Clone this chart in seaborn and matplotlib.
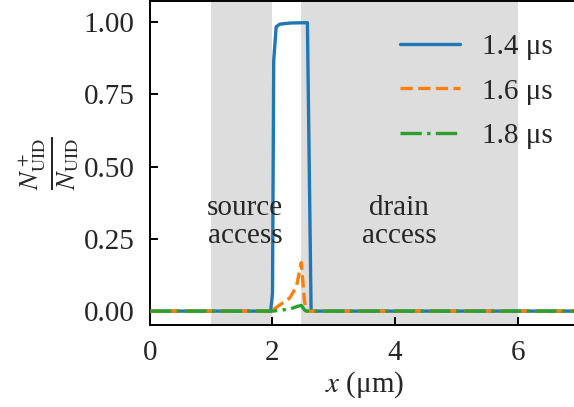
import matplotlib
matplotlib.use("Agg")
import matplotlib.pyplot as plt
import seaborn as sns
import pandas as pd

# Fraction of ionized UID donors along the channel at three instants
x_14 = [0.0, 1.97, 2.00, 2.02, 2.06, 2.12, 2.30, 2.55, 2.57, 2.63, 7.0]
y_14 = [0.0, 0.0, 0.06, 0.868, 0.984, 0.993, 0.997, 0.998, 0.998, 0.0, 0.0]

x_16 = [0.0, 1.98, 2.11, 2.28, 2.39, 2.44, 2.47, 2.52, 2.55, 7.0]
y_16 = [0.0, 0.0, 0.02, 0.045, 0.084, 0.136, 0.168, 0.04, 0.0, 0.0]

x_18 = [0.0, 2.0, 2.28, 2.39, 2.47, 2.52, 2.55, 7.0]
y_18 = [0.0, 0.0, 0.007, 0.015, 0.02, 0.005, 0.0, 0.0]

labels = ["1.4 μs", "1.6 μs", "1.8 μs"]
colors = ["#1f77b4", "#ff7f0e", "#2ca02c"]
styles = ["-", "--", "-."]

# Device regions (µm)
source_region = (1.0, 2.0)
drain_region = (2.47, 6.0)

sns.set_theme(style="ticks")
plt.rcParams["font.family"] = ["Liberation Serif", "DejaVu Serif"]
plt.rcParams["mathtext.fontset"] = "stix"

fig = plt.figure(figsize=(5.74, 4.07), dpi=100)
ax = fig.add_axes([0.2613, 0.2015, 0.747, 0.796])

for reg in (source_region, drain_region):
    ax.axvspan(reg[0], reg[1], color="#dddddd", lw=0, zorder=0)

series = [(x_14, y_14), (x_16, y_16), (x_18, y_18)]
for (xs, ys), lab, c, ls in zip(series, labels, colors, styles):
    df = pd.DataFrame({"x": xs, "y": ys})
    sns.lineplot(data=df, x="x", y="y", ax=ax, color=c, linestyle=ls,
                 lw=2.4, label=lab, zorder=3)

ax.text(1.55, 0.31, "source\naccess", ha="center", va="center",
        fontsize=21, linespacing=1.1)
ax.text(4.07, 0.31, "drain\naccess", ha="center", va="center",
        fontsize=21, linespacing=1.1)

ax.set_xlim(0, 7)
ax.set_ylim(-0.048, 1.073)
ax.set_xticks([0, 2, 4, 6])
ax.set_yticks([0.0, 0.25, 0.5, 0.75, 1.0])
ax.set_yticklabels(["0.00", "0.25", "0.50", "0.75", "1.00"])
ax.tick_params(direction="in", labelsize=21, length=6, width=1.4, pad=11,
               color="black", bottom=True, left=True)
for s in ax.spines.values():
    s.set_linewidth(1.4)
    s.set_color("black")

ax.set_xlabel("$x$ (μm)", fontsize=21, labelpad=2)
ax.set_ylabel(r"$\frac{N^+_{\mathrm{UID}}}{N_{\mathrm{UID}}}$", fontsize=27,
              labelpad=2)

ax.legend(loc="upper right", bbox_to_anchor=(1.0, 0.98), frameon=False,
          fontsize=21, handlelength=2.05, handletextpad=0.75,
          labelspacing=0.62)

fig.savefig("out.png", dpi=100)
